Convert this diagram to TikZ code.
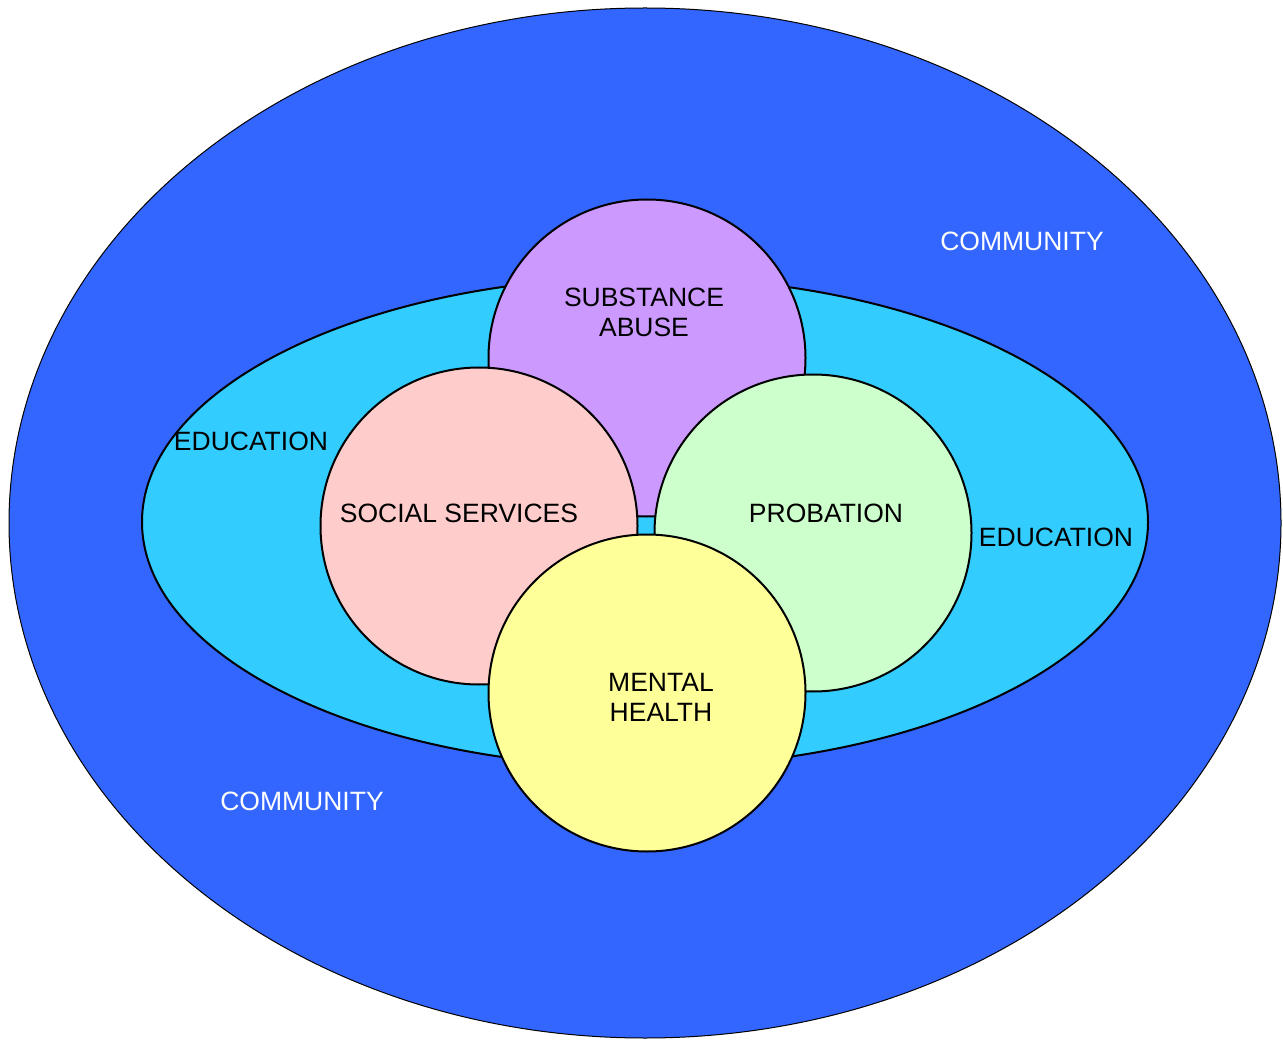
\documentclass[tikz,border=0pt]{standalone}
\usepackage{fontspec}
\setmainfont{Liberation Sans}
\usetikzlibrary{shapes.geometric}

\definecolor{communityblue}{HTML}{3366FF}
\definecolor{educationcyan}{HTML}{33CCFF}
\definecolor{substancepurple}{HTML}{CC99FF}
\definecolor{socialpink}{HTML}{FFCCCC}
\definecolor{probationgreen}{HTML}{CCFFCC}
\definecolor{mentalyellow}{HTML}{FFFF99}

\begin{document}
\begin{tikzpicture}
  [x=1pt, y=-1pt,
    every node/.style={font=\fontsize{26.5}{30}\selectfont, align=center, inner sep=0pt},
    area/.style={ellipse, draw=black, line width=2pt},
    agency/.style={circle, draw=black, line width=2pt, minimum size=317pt},
    darklabel/.style={text=black},
    lightlabel/.style={text=white},
]
  \useasboundingbox (0,0) rectangle (1283,1040);

  % outer and inner areas
  \node[area, fill=communityblue, line width=1pt, minimum width=1272pt, minimum height=1030pt] (community) at (645,523) {};
  \node[area, fill=educationcyan, minimum width=1006pt, minimum height=490pt] (education) at (645,522) {};

  % agencies, back to front
  \node[agency, fill=substancepurple] (substance) at (647,358) {};
  \node[agency, fill=socialpink] (social) at (479,526) {};
  \node[agency, fill=probationgreen] (probation) at (813,533) {};
  \node[agency, fill=mentalyellow] (mental) at (647,693) {};

  % labels
  \node[lightlabel] (community top) at (1022,241) {COMMUNITY};
  \node[lightlabel] (community bottom) at (302,801) {COMMUNITY};
  \node[darklabel] (education left) at (251,441) {EDUCATION};
  \node[darklabel] (education right) at (1056,537) {EDUCATION};
  \node[darklabel] (substance text) at (644,312) {SUBSTANCE\\ABUSE};
  \node[darklabel] (social text) at (459,513) {SOCIAL SERVICES};
  \node[darklabel] (probation text) at (826,513) {PROBATION};
  \node[darklabel] (mental text) at (661,697) {MENTAL\\HEALTH};
\end{tikzpicture}
\end{document}
